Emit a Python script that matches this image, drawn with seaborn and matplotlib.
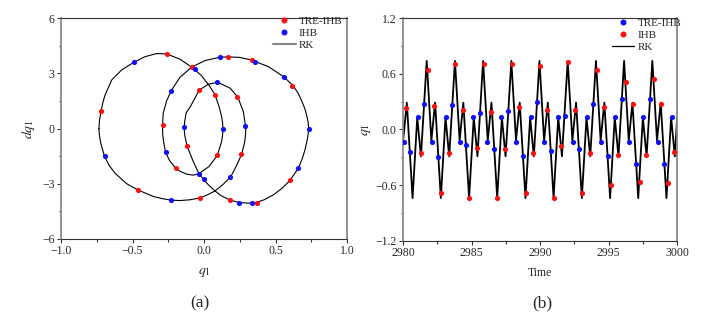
import matplotlib
matplotlib.use("Agg")
import matplotlib.pyplot as plt
from matplotlib.lines import Line2D
from matplotlib.ticker import MultipleLocator
import numpy as np
import pandas as pd
import seaborn as sns

# ---- panel (a): phase portrait, RK trajectory ----
rk_q1 = [
    -0.735, -0.731, -0.72, -0.708, -0.692, -0.645, -0.576, -0.494, -0.413, -0.33, -0.261,
    -0.168, -0.086, -0.02, 0.035, 0.077, 0.105, 0.124, 0.13, 0.132,
    0.13, 0.123, 0.093, 0.035, -0.036, -0.075, -0.12, -0.165, -0.197, -0.24, -0.269,
    -0.284, -0.289, -0.29,
    -0.289, -0.285, -0.262, -0.229, -0.168, -0.086, 0.007, 0.113, 0.166, 0.25, 0.338, 0.36,
    0.45, 0.559, 0.622, 0.66, 0.69, 0.708, 0.72, 0.728, 0.732,
    0.728, 0.722, 0.706, 0.686, 0.66, 0.601, 0.545, 0.485, 0.42, 0.364, 0.31, 0.245, 0.18,
    0.12, 0.077, 0.03, -0.003, -0.036, -0.08, -0.12, -0.135, -0.139,
    -0.135, -0.125, -0.098, -0.033, 0.03, 0.095, 0.182, 0.236, 0.275, 0.29, 0.292,
    0.29, 0.285, 0.264, 0.225, 0.187, 0.135, 0.077, 0.023, -0.028, -0.1, -0.168, -0.23,
    -0.29, -0.354, -0.464, -0.54, -0.622, -0.665, -0.697, -0.722, -0.731, -0.735,
]
rk_dq1 = [
    0.0, 0.45, 0.96, 1.4, 1.83, 2.65, 3.19, 3.59, 3.91, 4.08, 4.06,
    3.77, 3.34, 2.9, 2.35, 1.85, 1.2, 0.62, 0.3, 0.0,
    -0.35, -0.7, -1.46, -2.06, -2.45, -2.53, -2.48, -2.33, -2.16, -1.75, -1.29,
    -0.65, -0.3, 0.0,
    0.4, 0.85, 1.5, 2.07, 2.79, 3.34, 3.70, 3.88, 3.9, 3.87, 3.72, 3.64,
    3.37, 2.81, 2.34, 1.9, 1.38, 1.02, 0.65, 0.35, 0.0,
    -0.3, -0.6, -1.16, -1.65, -2.15, -2.82, -3.25, -3.6, -3.87, -4.02, -4.05, -4.02, -3.88,
    -3.65, -3.39, -3.05, -2.76, -2.45, -1.7, -0.92, -0.35, 0.0,
    0.4, 0.85, 1.16, 2.1, 2.41, 2.52, 2.2, 1.72, 0.92, 0.15, 0.0,
    -0.35, -0.7, -1.38, -2.05, -2.61, -3.02, -3.39, -3.6, -3.77, -3.87, -3.91, -3.89,
    -3.81, -3.69, -3.33, -3.0, -2.43, -1.98, -1.48, -0.8, -0.4, 0.0,
]

tre_q1 = [-0.262, -0.085, 0.167, 0.336, 0.618, -0.72, -0.034, 0.076, 0.234, -0.29,
          -0.122, 0.092, 0.262, -0.197, 0.600, -0.465, -0.029, 0.18, 0.367]
tre_dq1 = [4.04, 3.35, 3.90, 3.72, 2.34, 0.96, 2.12, 1.83, 1.72, 0.2,
           -0.92, -1.45, -1.38, -2.16, -2.79, -3.34, -3.77, -3.88, -4.02]
ihb_q1 = [-0.493, -0.066, 0.113, 0.36, 0.558, 0.094, -0.229, -0.139, 0.134, 0.29,
          0.732, -0.695, -0.269, -0.036, -0.003, 0.18, 0.655, -0.229, 0.245, 0.334]
ihb_dq1 = [3.61, 3.26, 3.90, 3.64, 2.81, 2.52, 2.07, 0.07, 0.0, 0.16,
           0.0, -1.47, -1.29, -2.45, -2.76, -2.61, -2.16, -3.88, -4.02, -4.02]

# ---- panel (b): time history, RK extrema ----
rk_time = [
    2979.67, 2980.01, 2980.28, 2980.70, 2981.04, 2981.31,
    2981.73, 2982.07, 2982.34, 2982.76, 2983.10, 2983.37,
    2983.79, 2984.13, 2984.40, 2984.82, 2985.16, 2985.43,
    2985.84, 2986.18, 2986.45, 2986.87, 2987.21, 2987.48,
    2987.90, 2988.24, 2988.51, 2988.93, 2989.27, 2989.54,
    2989.95, 2990.29, 2990.56, 2990.98, 2991.32, 2991.59,
    2992.01, 2992.35, 2992.62, 2993.04, 2993.38, 2993.65,
    2994.07, 2994.41, 2994.68, 2995.10, 2995.44, 2995.71,
    2996.12, 2996.46, 2996.73, 2997.15, 2997.49, 2997.76,
    2998.18, 2998.52, 2998.79, 2999.21, 2999.55, 2999.82,
    3000.23,
]
rk_q = [
    0.74, -0.12, 0.29, -0.74, 0.13, -0.29,
    0.74, -0.12, 0.29, -0.74, 0.13, -0.29,
    0.74, -0.12, 0.29, -0.74, 0.13, -0.29,
    0.74, -0.12, 0.29, -0.74, 0.13, -0.29,
    0.74, -0.12, 0.29, -0.74, 0.13, -0.29,
    0.74, -0.12, 0.29, -0.74, 0.13, -0.29,
    0.74, -0.12, 0.29, -0.74, 0.13, -0.29,
    0.74, -0.12, 0.29, -0.74, 0.13, -0.29,
    0.74, -0.12, 0.29, -0.74, 0.13, -0.29,
    0.74, -0.12, 0.29, -0.74, 0.13, -0.29,
    0.74,
]

tre_time = [2980.05, 2980.49, 2981.07, 2981.53, 2982.09, 2982.58, 2983.11, 2983.57,
            2984.13, 2984.59, 2985.13, 2985.61, 2986.15, 2986.66, 2987.17, 2987.68,
            2988.24, 2988.72, 2989.31, 2989.74, 2990.30, 2990.79, 2991.32, 2991.79,
            2992.37, 2992.83, 2993.41, 2993.88, 2994.41, 2994.92, 2995.48, 2995.94,
            2996.50, 2996.99, 2997.52, 2998.01, 2998.57, 2999.05, 2999.59]
tre_q = [-0.14, -0.24, 0.13, 0.27, -0.14, -0.30, 0.13, 0.26,
         -0.14, -0.17, 0.13, 0.18, -0.14, -0.21, 0.13, 0.20,
         -0.14, -0.29, 0.13, 0.30, -0.14, -0.23, 0.13, 0.15,
         -0.14, -0.21, 0.13, 0.27, -0.14, -0.29, 0.13, 0.33,
         -0.14, -0.37, 0.13, 0.33, -0.14, -0.37, 0.13]
ihb_time = [2980.22, 2981.29, 2981.80, 2982.28, 2982.75, 2983.33, 2983.82, 2984.35,
            2984.84, 2985.37, 2985.88, 2986.39, 2986.88, 2987.44, 2987.92, 2988.46,
            2988.97, 2989.50, 2990.01, 2990.52, 2991.01, 2991.52, 2992.03, 2992.56,
            2993.05, 2993.61, 2994.17, 2994.63, 2995.19, 2995.67, 2996.23, 2996.74,
            2997.25, 2997.74, 2998.30, 2998.78, 2999.32, 2999.76]
ihb_q = [0.23, -0.25, 0.64, 0.25, -0.68, -0.25, 0.71, 0.21,
         -0.74, -0.20, 0.71, 0.19, -0.74, -0.21, 0.71, 0.24,
         -0.69, -0.25, 0.69, 0.21, -0.74, -0.18, 0.73, 0.21,
         -0.69, -0.25, 0.64, 0.24, -0.60, -0.28, 0.51, 0.28,
         -0.57, -0.27, 0.54, 0.28, -0.58, -0.24]

RED = "#ff1010"
BLUE = "#1010ff"

sns.set_style("ticks")
plt.rcParams["font.family"] = ["Liberation Serif", "DejaVu Serif"]
plt.rcParams["mathtext.fontset"] = "stix"

fig = plt.figure(figsize=(7.24, 3.29), dpi=100)
ax_a = fig.add_axes([0.0843, 0.2736, 0.395, 0.671])
ax_b = fig.add_axes([0.5566, 0.2684, 0.3789, 0.676])


def _style_axes(ax):
    for side in ("left", "right"):
        ax.spines[side].set_color("#8a8a8a")
        ax.spines[side].set_linewidth(1.3)
    for side in ("top", "bottom"):
        ax.spines[side].set_color("#333333")
        ax.spines[side].set_linewidth(0.8)
    ax.tick_params(which="both", direction="out", width=0.8, color="#333333",
                   labelsize=8.5, pad=1.5, top=False, right=False)
    ax.tick_params(which="major", length=3)
    ax.tick_params(which="minor", length=1.8)


def _minus_fmt(v, p):
    return f"{v:.1f}".replace("-", "\u2212")


# (a) phase portrait
phase = pd.DataFrame({"q1": rk_q1, "dq1": rk_dq1})
sns.lineplot(data=phase, x="q1", y="dq1", sort=False, estimator=None,
             color="black", linewidth=0.8, ax=ax_a, legend=False,
             solid_joinstyle="round")
sns.scatterplot(x=tre_q1, y=tre_dq1, color=RED, s=14, linewidth=0, ax=ax_a, zorder=3)
sns.scatterplot(x=ihb_q1, y=ihb_dq1, color=BLUE, s=14, linewidth=0, ax=ax_a, zorder=3)
ax_a.set_xlim(-1.0, 1.0)
ax_a.set_ylim(-6, 6)
ax_a.xaxis.set_major_locator(MultipleLocator(0.5))
ax_a.xaxis.set_minor_locator(MultipleLocator(0.25))
ax_a.yaxis.set_major_locator(MultipleLocator(3))
ax_a.yaxis.set_minor_locator(MultipleLocator(1.5))
ax_a.xaxis.set_major_formatter(plt.FuncFormatter(_minus_fmt))
ax_a.set_xlabel(r"$q_1$", fontsize=10, labelpad=6)
ax_a.set_ylabel(r"$dq_1$", fontsize=10, labelpad=4)
_style_axes(ax_a)

handles_a = [
    Line2D([], [], linestyle="none", marker="o", markersize=3.3, color=RED),
    Line2D([], [], linestyle="none", marker="o", markersize=3.3, color=BLUE),
    Line2D([], [], color="#888888", linewidth=1.5),
]
ax_a.legend(handles_a, ["TRE-IHB", "IHB", "RK"], loc="upper right", frameon=False,
            fontsize=8, bbox_to_anchor=(1.0, 1.03), borderaxespad=0,
            handlelength=2.0, handletextpad=0.3, labelspacing=0.2)

# (b) time history
series = pd.DataFrame({"time": rk_time, "q1": rk_q})
sns.lineplot(data=series, x="time", y="q1", estimator=None, color="black",
             linewidth=1.3, ax=ax_b, legend=False, solid_joinstyle="round")
sns.scatterplot(x=tre_time, y=tre_q, color=BLUE, s=14, linewidth=0, ax=ax_b, zorder=3)
sns.scatterplot(x=ihb_time, y=ihb_q, color=RED, s=14, linewidth=0, ax=ax_b, zorder=3)
ax_b.set_xlim(2980, 3000)
ax_b.set_ylim(-1.2, 1.2)
ax_b.xaxis.set_major_locator(MultipleLocator(5))
ax_b.xaxis.set_minor_locator(MultipleLocator(2.5))
ax_b.yaxis.set_major_locator(MultipleLocator(0.6))
ax_b.yaxis.set_minor_locator(MultipleLocator(0.3))
ax_b.yaxis.set_major_formatter(plt.FuncFormatter(_minus_fmt))
ax_b.set_xlabel("Time", fontsize=8.5, labelpad=6)
ax_b.set_ylabel(r"$q_1$", fontsize=10, labelpad=2)
_style_axes(ax_b)

handles_b = [
    Line2D([], [], linestyle="none", marker="o", markersize=3.3, color=BLUE),
    Line2D([], [], linestyle="none", marker="o", markersize=3.3, color=RED),
    Line2D([], [], color="black", linewidth=0.9),
]
ax_b.legend(handles_b, ["TRE-IHB", "IHB", "RK"], loc="upper right", frameon=False,
            fontsize=8, bbox_to_anchor=(1.03, 1.02), borderaxespad=0,
            handlelength=2.0, handletextpad=0.3, labelspacing=0.2)

fig.text(0.276, 0.079, "(a)", ha="center", va="center", fontsize=12.5)
fig.text(0.749, 0.079, "(b)", ha="center", va="center", fontsize=12.5)

fig.savefig("out.png", dpi=100)
